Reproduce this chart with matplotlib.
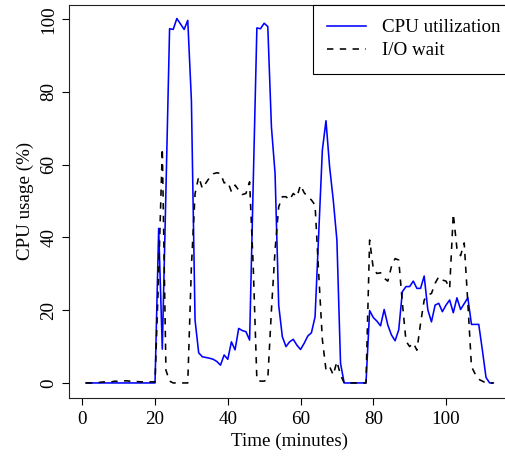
import numpy as np
import matplotlib
matplotlib.use("Agg")
import matplotlib.pyplot as plt

plt.rcParams["font.family"] = ["Liberation Serif", "DejaVu Serif"]

minutes = np.arange(1, 114)

cpu_util = [0] * 20 + [
    42.5, 9.3, 53, 97.4, 97.2, 100.2, 98.7, 97.2, 99.7, 77.7,
    17.3, 8.3, 7.2, 7.0, 6.8, 6.5, 5.9, 4.9, 7.7, 6.5,
    11.3, 9.1, 15.0, 14.4, 14.1, 11.8, 55, 97.6, 97.4, 98.9,
    98.0, 70.4, 57.6, 21.4, 12.7, 10.0, 11.3, 12.0, 10.4, 9.2,
    10.9, 12.9, 13.8, 18.2, 41, 64, 72.1, 59.4, 50.3, 39.3,
    5.4,
] + [0] * 7 + [
    19.9, 18.0, 17.0, 15.7, 20.2, 15.9, 13.2, 11.6, 14.6, 25.1,
    26.5, 26.5, 28.0, 26.0, 26.0, 29.4, 20.1, 16.8, 21.4, 21.9,
    19.6, 21.4, 22.8, 19.3, 23.4, 20.2, 21.8, 23.4, 16.1, 16.1,
    16.1, 9, 1.5, 0, 0,
]

io_wait = [
    0, 0, 0, 0, 0.2, 0.3, 0.2, 0.3, 0.5, 0.4,
    0.5, 0.6, 0.5, 0.6, 0.4, 0.3, 0.3, 0.3, 0.3, 0.3,
    30, 64.5, 3.5, 0.5,
] + [0] * 5 + [
    32, 52, 56.7, 53.5, 55, 56.5, 57.5, 57.8, 57.6, 55,
    55.3, 52.6, 54.4, 53, 51.8, 52.1, 55.3, 32, 0.8, 0.5,
    0.5, 1, 20, 36.5, 48.4, 51.2, 51.2, 50.3, 52.1, 51.2,
    54.4, 52.3, 51.2, 50.3, 48.9, 30, 12, 3.6, 4.5, 2.2,
    5.9, 2.2,
] + [0] * 7 + [
    39.3, 31.5, 30.1, 30.3, 28.8, 28.0, 32.0, 34.2, 33.8, 22,
    11.5, 10.0, 11, 9, 16.4, 22.8, 24.2, 24.6, 27.4, 29.2,
    28.3, 28, 26, 46.5, 37, 35, 38.5, 22, 4.5, 2.5,
    1, 0.5,
] + [0] * 3

W, H = 506, 463
FS = 13.7
fig = plt.figure(figsize=(W / 100, H / 100), dpi=100)
# axes box: left 69.3px, bottom 397.5px, top 4.7px; right side runs off the figure
ax = fig.add_axes([69.3 / W, (H - 397.5) / H, 440 / W, 392.8 / H])

ax.plot(minutes, cpu_util, color="#0000ff", lw=1.15, label="CPU utilization")
ax.plot(minutes, io_wait, color="black", lw=1.15, dashes=(4, 4), label="I/O wait")

ax.set_xlim(-3.57, 117.4)
ax.set_ylim(-4, 104)
ax.set_xticks([0, 20, 40, 60, 80, 100])
ax.set_yticks([0, 20, 40, 60, 80, 100])
ax.tick_params(axis="both", direction="out", length=5, width=0.8, labelsize=FS, color="black")
ax.tick_params(axis="x", pad=5)
ax.tick_params(axis="y", pad=3.5)
for lab in ax.get_yticklabels():
    lab.set_rotation(90)
    lab.set_va("center")

for sp in ax.spines.values():
    sp.set_linewidth(0.8)
    sp.set_color("#222222")

ax.set_xlabel("Time (minutes)", fontsize=FS, labelpad=3)
ax.set_ylabel("CPU usage (%)", fontsize=FS, labelpad=5)

# legend box hangs past the right edge like the reference (its right side is cut off)
leg = ax.legend(loc="upper right", bbox_to_anchor=(1.012, 1.0), borderaxespad=0,
                fontsize=FS, handlelength=2.05, handletextpad=0.82, borderpad=0.75,
                labelspacing=0.3, fancybox=False, framealpha=1, edgecolor="black")
leg.get_frame().set_linewidth(0.8)

fig.savefig("out.png", dpi=100)
